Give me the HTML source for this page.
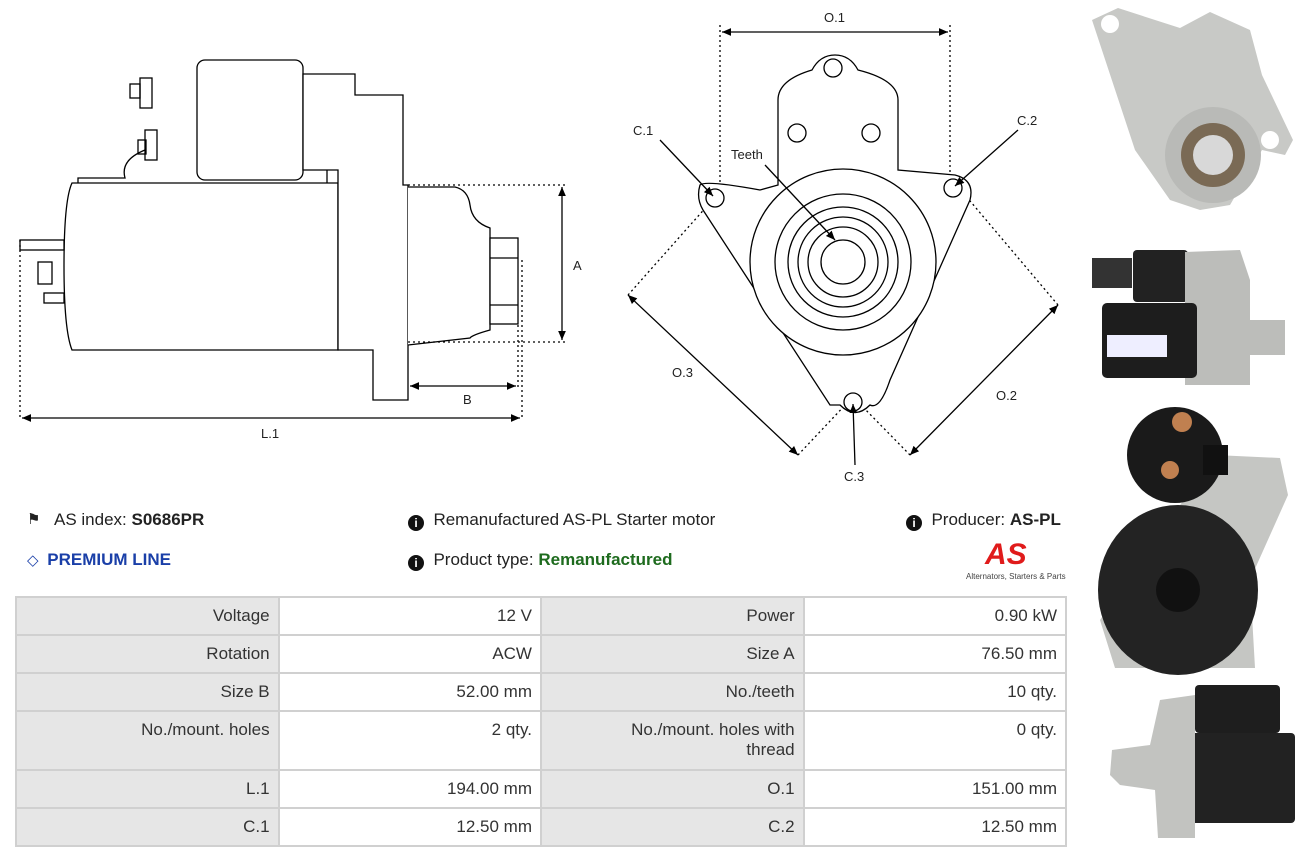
<!DOCTYPE html>
<html><head><meta charset="utf-8"><style>
body{margin:0;width:1304px;height:860px;background:#fff;font-family:"Liberation Sans",sans-serif;color:#222;position:relative;overflow:hidden}
.a{position:absolute;white-space:nowrap;font-size:17px}
table{position:absolute;left:15px;top:596px;border-collapse:collapse;width:1052px;font-size:17px;color:#333}
td{border:2px solid #d0d0d0;text-align:right;vertical-align:top;padding:8px 8px 0 8px;width:246px}
td.l{background:#e6e6e6}
tr{height:38px}
svg{position:absolute;left:0;top:0}
.i{display:inline-block;width:16px;height:16px;border-radius:50%;background:#111;color:#fff;font-size:12px;text-align:center;line-height:16px;font-weight:bold;vertical-align:-2px}
</style></head><body>
<svg width="1304" height="860" viewBox="0 0 1304 860" fill="none" stroke="#000" stroke-width="1.3">
<defs><marker id="ar" markerWidth="8" markerHeight="8" refX="7" refY="4" orient="auto-start-reverse"><path d="M0,1 L7,4 L0,7" fill="#000" stroke="none"/></marker></defs>
<!-- left side view -->
<path d="M72,183 L338,183 L338,350 L72,350 Q64,330 64,266 Q64,200 72,183 Z" fill="#fff"/>
<rect x="197" y="60" width="106" height="120" rx="8" fill="#fff"/>
<path d="M303,74 L355,74 L355,95 L403,95 L403,185 L408,185 L408,345 L408,400 L373,400 L373,350 L338,350 L338,170 L303,170 Z" fill="#fff"/>
<path d="M408,187 L455,187 Q468,190 470,205 Q472,222 490,228 L490,330 Q472,335 470,338 L408,345" fill="#fff"/>
<rect x="490" y="238" width="28" height="86" fill="#fff"/>
<line x1="490" y1="258" x2="518" y2="258"/><line x1="490" y1="305" x2="518" y2="305"/>
<rect x="140" y="78" width="12" height="30" fill="#fff"/><rect x="130" y="84" width="10" height="14"/>
<rect x="145" y="130" width="12" height="30"/><rect x="138" y="140" width="8" height="14"/>
<path d="M78,183 L78,178 L125,178 Q120,160 145,150"/>
<rect x="20" y="240" width="44" height="10"/><rect x="38" y="262" width="14" height="22"/><rect x="44" y="293" width="20" height="10"/>
<line x1="327" y1="170" x2="327" y2="183"/>
<g stroke-dasharray="2,3">
<line x1="408" y1="185" x2="568" y2="185"/><line x1="408" y1="342" x2="568" y2="342"/>
<line x1="20" y1="240" x2="20" y2="420"/><line x1="522" y1="260" x2="522" y2="420"/><line x1="518" y1="325" x2="518" y2="390"/>
<line x1="720" y1="25" x2="720" y2="190"/><line x1="950" y1="25" x2="950" y2="180"/>
<line x1="628" y1="295" x2="708" y2="205"/><line x1="1058" y1="305" x2="965" y2="195"/>
<line x1="798" y1="455" x2="848" y2="402"/><line x1="910" y1="455" x2="858" y2="402"/>
</g>
<line x1="562" y1="187" x2="562" y2="340" marker-start="url(#ar)" marker-end="url(#ar)"/>
<line x1="410" y1="386" x2="516" y2="386" marker-start="url(#ar)" marker-end="url(#ar)"/>
<line x1="22" y1="418" x2="520" y2="418" marker-start="url(#ar)" marker-end="url(#ar)"/>
<!-- front view -->
<path d="M700,185 Q705,180 760,190 L778,185 L778,100 Q778,80 812,70 Q820,55 835,55 Q850,55 858,70 Q898,80 898,100 L898,170 L955,175 Q975,180 970,200 L890,380 Q880,410 870,405 Q855,420 840,405 L830,405 L703,210 Q696,198 700,185 Z" fill="#fff"/>
<circle cx="833" cy="68" r="9"/><circle cx="797" cy="133" r="9"/><circle cx="871" cy="133" r="9"/>
<circle cx="715" cy="198" r="9"/><circle cx="953" cy="188" r="9"/><circle cx="853" cy="402" r="9"/>
<circle cx="843" cy="262" r="93" fill="#fff"/><circle cx="843" cy="262" r="68"/><circle cx="843" cy="262" r="55"/><circle cx="843" cy="262" r="45"/><circle cx="843" cy="262" r="35"/><circle cx="843" cy="262" r="22"/>
<line x1="722" y1="32" x2="948" y2="32" marker-start="url(#ar)" marker-end="url(#ar)"/>
<line x1="660" y1="140" x2="713" y2="196" marker-end="url(#ar)"/>
<line x1="1018" y1="130" x2="955" y2="186" marker-end="url(#ar)"/>
<line x1="855" y1="465" x2="853" y2="404" marker-end="url(#ar)"/>
<line x1="765" y1="165" x2="835" y2="240" marker-end="url(#ar)"/>
<line x1="628" y1="295" x2="798" y2="455" marker-start="url(#ar)" marker-end="url(#ar)"/>
<line x1="1058" y1="305" x2="910" y2="455" marker-start="url(#ar)" marker-end="url(#ar)"/>
<g fill="#222" stroke="none" font-size="13" font-family="Liberation Sans">
<text x="573" y="270">A</text><text x="463" y="404">B</text><text x="261" y="438">L.1</text>
<text x="824" y="22">O.1</text><text x="633" y="135">C.1</text><text x="1017" y="125">C.2</text><text x="844" y="481">C.3</text>
<text x="731" y="159">Teeth</text><text x="672" y="377">O.3</text><text x="996" y="400">O.2</text>
</g>
<!-- photos -->
<g stroke="none">
<path d="M1092,20 L1118,8 L1180,28 L1210,12 L1250,30 L1262,75 L1293,140 L1285,155 L1262,150 L1230,205 L1200,210 L1170,200 L1135,150 Z" fill="#c8c9c6"/>
<circle cx="1110" cy="24" r="9" fill="#fff"/><circle cx="1270" cy="140" r="9" fill="#fff"/>
<circle cx="1213" cy="155" r="48" fill="#b9bab7"/><circle cx="1213" cy="155" r="32" fill="#7a6a55"/><circle cx="1213" cy="155" r="20" fill="#d8d8d8"/>
<rect x="1133" y="250" width="55" height="52" rx="4" fill="#222"/><rect x="1092" y="258" width="40" height="30" fill="#333"/>
<path d="M1185,252 L1240,250 L1250,280 L1250,320 L1285,320 L1285,355 L1250,355 L1250,385 L1185,385 Z" fill="#bcbdba"/>
<rect x="1102" y="303" width="95" height="75" rx="5" fill="#1d1d1d"/><rect x="1107" y="335" width="60" height="22" fill="#eef"/>
<path d="M1215,455 L1280,458 L1288,495 L1250,580 L1255,668 L1115,668 L1100,620 Z" fill="#c5c6c3"/>
<circle cx="1175" cy="455" r="48" fill="#1a1a1a"/><ellipse cx="1178" cy="590" rx="80" ry="85" fill="#232323"/>
<circle cx="1178" cy="590" r="22" fill="#111"/><circle cx="1182" cy="422" r="10" fill="#c08050"/><circle cx="1170" cy="470" r="9" fill="#c08050"/>
<rect x="1203" y="445" width="25" height="30" fill="#111"/>
<rect x="1195" y="685" width="85" height="48" rx="4" fill="#1e1e1e"/><rect x="1185" y="733" width="110" height="90" rx="4" fill="#222"/>
<path d="M1160,700 L1195,695 L1195,838 L1158,838 L1155,790 L1120,785 L1110,775 L1112,750 L1150,745 Z" fill="#c2c3c0"/>
</g>
</svg>
<div class="a" style="left:27px;top:510px;font-size:15px">&#x2691;</div>
<div class="a" style="left:54px;top:510px">AS index: <b>S0686PR</b></div>
<div class="a" style="left:27px;top:550px;color:#1a3fa8"><span style="font-size:15px">◇</span> <b style="margin-left:4px">PREMIUM LINE</b></div>
<div class="a" style="left:408px;top:510px"><span class="i">i</span> &nbsp;Remanufactured AS-PL Starter motor</div>
<div class="a" style="left:408px;top:550px"><span class="i">i</span> &nbsp;Product type: <b style="color:#1e6b1e">Remanufactured</b></div>
<div class="a" style="left:906px;top:510px"><span class="i">i</span> &nbsp;Producer: <b>AS-PL</b></div>
<div class="a" style="left:985px;top:538px;color:#e01b1b;font-size:30px;font-weight:bold;font-style:italic">AS</div>
<div class="a" style="left:966px;top:572px;font-size:8px;color:#444">Alternators, Starters &amp; Parts</div>
<table>
<tr><td class="l">Voltage</td><td>12 V</td><td class="l">Power</td><td>0.90 kW</td></tr>
<tr><td class="l">Rotation</td><td>ACW</td><td class="l">Size A</td><td>76.50 mm</td></tr>
<tr><td class="l">Size B</td><td>52.00 mm</td><td class="l">No./teeth</td><td>10 qty.</td></tr>
<tr style="height:59px"><td class="l">No./mount. holes</td><td>2 qty.</td><td class="l">No./mount. holes with<br>thread</td><td>0 qty.</td></tr>
<tr><td class="l">L.1</td><td>194.00 mm</td><td class="l">O.1</td><td>151.00 mm</td></tr>
<tr><td class="l">C.1</td><td>12.50 mm</td><td class="l">C.2</td><td>12.50 mm</td></tr>
</table>
</body></html>
